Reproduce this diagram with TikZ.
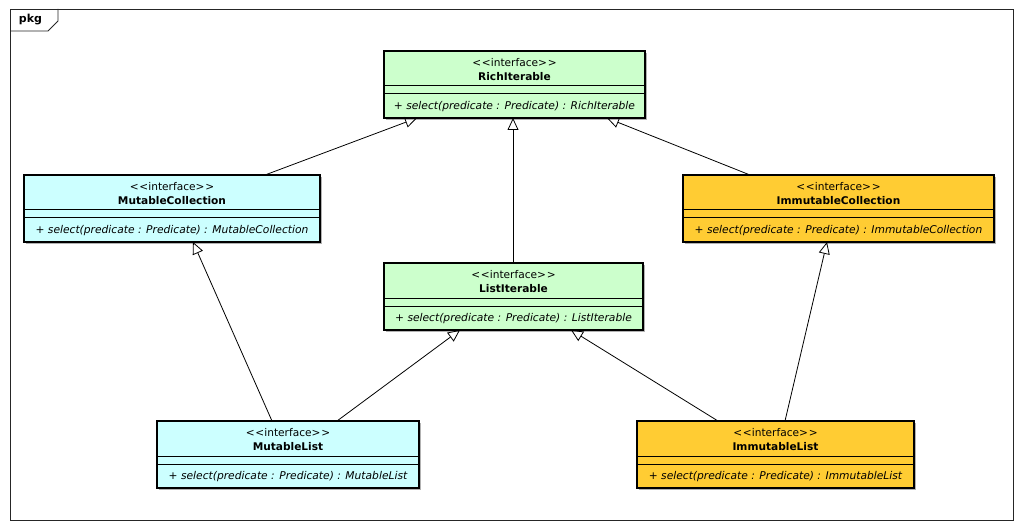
\documentclass[tikz,border=0pt]{standalone}
\usepackage{fontspec}
\setmainfont{DejaVu Sans}
\usetikzlibrary{arrows.meta,shadows}
\definecolor{grn}{HTML}{CCFFCC}
\definecolor{cyn}{HTML}{CCFFFF}
\definecolor{org}{HTML}{FFCC33}
\tikzset{
  umlbox/.style={draw=black, line width=1.6pt, rectangle, inner sep=0pt, outer sep=0pt,
    minimum height=67pt,
    drop shadow={shadow xshift=2pt, shadow yshift=-2pt, fill=black!30, opacity=1}},
  sepline/.style={line width=1pt},
  stereo/.style={font=\fontsize{10.6}{12}\selectfont, inner sep=0pt},
  cname/.style={font=\fontsize{10.6}{12}\selectfont\bfseries, inner sep=0pt},
  meth/.style={font=\fontsize{10.7}{12}\selectfont\itshape, inner sep=0pt},
  gen/.style={-{Triangle[open,length=12pt,width=11pt,line width=0.8pt]}, line width=0.8pt},
  frame/.style={draw=black!85, line width=0.8pt},
}
\newcommand\umlclass[7]{%
  \node[umlbox, fill=#5, minimum width=#4pt] (#1) at (#2,{#3+33.5}) {};
  \draw[sepline] ([yshift=-35pt]#1.north west) -- ([yshift=-35pt]#1.north east);
  \draw[sepline] ([yshift=-43pt]#1.north west) -- ([yshift=-43pt]#1.north east);
  \node[stereo] (#1-st) at ([yshift=-12pt]#1.north) {<\kern0.8pt<interface>\kern0.8pt>};
  \node[cname] (#1-nm) at ([yshift=-26pt]#1.north) {#6};
  \node[meth] (#1-mt) at ([yshift=-55.5pt]#1.north) {+ select(predicate : Predicate) : #7};
}
\begin{document}
\begin{tikzpicture}[x=1pt,y=-1pt]
\useasboundingbox[fill=white] (0,0) rectangle (1024,529);
% package frame
\draw[frame] (10,9) rectangle (1013,520);
\draw[frame] (10,31) -- (48,31) -- (58,21) -- (58,9);
\node[font=\fontsize{11}{12}\selectfont\bfseries, inner sep=0pt] (pkg) at (30.5,20) {pkg};
% classes
\umlclass{ri}{514.5}{51}{261}{grn}{RichIterable}{RichIterable}
\umlclass{mc}{172}{175}{296}{cyn}{MutableCollection}{MutableCollection}
\umlclass{ic}{838.5}{175}{311}{org}{ImmutableCollection}{ImmutableCollection}
\umlclass{li}{513.5}{263}{259}{grn}{ListIterable}{ListIterable}
\umlclass{ml}{288}{421}{262}{cyn}{MutableList}{MutableList}
\umlclass{il}{775.5}{421}{277}{org}{ImmutableList}{ImmutableList}
% generalizations
\draw[gen] ([xshift=241pt]mc.north west) -- ([xshift=33pt]ri.south west);
\draw[gen] ([xshift=129pt]li.north west) -- ([xshift=129pt]ri.south west);
\draw[gen] ([xshift=67pt]ic.north west) -- ([xshift=223pt]ri.south west);
\draw[gen] ([xshift=115pt]ml.north west) -- ([xshift=169pt]mc.south west);
\draw[gen] ([xshift=180pt]ml.north west) -- ([xshift=76pt]li.south west);
\draw[gen] ([xshift=81pt]il.north west) -- ([xshift=187pt]li.south west);
\draw[gen] ([xshift=148pt]il.north west) -- ([xshift=144pt]ic.south west);
\end{tikzpicture}
\end{document}
